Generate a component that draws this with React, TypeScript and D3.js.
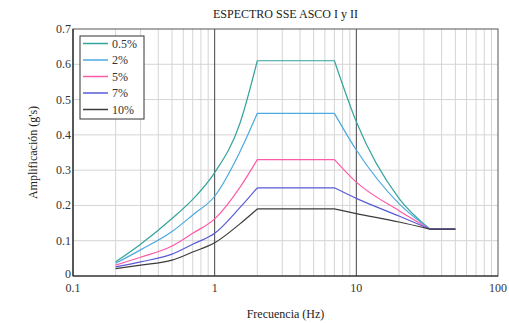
import * as d3 from 'd3';

// frequencies (Hz) shared by every damping curve
const freqs = [0.2, 0.3, 0.5, 0.7, 1, 1.5, 2, 7, 10, 20, 33, 50];

const damp05 = [0.040, 0.090, 0.163, 0.217, 0.293, 0.430, 0.610, 0.610, 0.437, 0.220, 0.133, 0.133];
const damp2 = [0.036, 0.074, 0.126, 0.173, 0.226, 0.350, 0.461, 0.461, 0.357, 0.205, 0.133, 0.133];
const damp5 = [0.031, 0.053, 0.085, 0.121, 0.162, 0.250, 0.330, 0.330, 0.266, 0.185, 0.133, 0.133];
const damp7 = [0.026, 0.040, 0.062, 0.090, 0.121, 0.193, 0.250, 0.250, 0.220, 0.170, 0.133, 0.133];
const damp10 = [0.021, 0.031, 0.045, 0.068, 0.094, 0.147, 0.190, 0.190, 0.177, 0.153, 0.133, 0.133];

const seriesNames = ['0.5%', '2%', '5%', '7%', '10%'];
const seriesValues = [damp05, damp2, damp5, damp7, damp10];
const seriesColors = ['#35a49c', '#4aaae2', '#ff5aa8', '#5a5ad6', '#3c3c3c'];

const yTicks = [0, 0.1, 0.2, 0.3, 0.4, 0.5, 0.6, 0.7];
const xTicks = [0.1, 1, 10, 100];
const xTickLabels = ['0.1', '1', '10', '100'];

const W = 509;
const H = 323;
const margin = { top: 29, right: 11, bottom: 47, left: 73 };
const FONT = '"Liberation Serif", "DejaVu Serif", serif';

export default function App() {
    const x = d3.scaleLog().domain([0.1, 100]).range([margin.left, W - margin.right]);
    const y = d3.scaleLinear().domain([0, 0.7]).range([H - margin.bottom, margin.top]);

    // minor grid: 2..9 of each decade
    const minor: number[] = [];
    [0.1, 1, 10].forEach(d => {
        for (let k = 2; k <= 9; k++) minor.push(d * k);
    });

    const smooth = d3.line<[number, number]>()
        .x(d => x(d[0]))
        .y(d => y(d[1]))
        .curve(d3.curveMonotoneX);
    const straight = d3.line<[number, number]>()
        .x(d => x(d[0]))
        .y(d => y(d[1]));

    // rising part and falling part smooth, plateau straight, corners kept sharp
    const paths = seriesValues.map(vals => {
        const pts = freqs.map((f, i) => [f, vals[i]] as [number, number]);
        const rise = pts.filter(p => p[0] <= 2);
        const flat = pts.filter(p => p[0] >= 2 && p[0] <= 7);
        const fall = pts.filter(p => p[0] >= 7 && p[0] <= 33);
        const tail = pts.filter(p => p[0] >= 33);
        return (smooth(rise) || '') + (straight(flat) || '') + (smooth(fall) || '') + (straight(tail) || '');
    });

    const x0 = margin.left;
    const x1 = W - margin.right;
    const y0 = H - margin.bottom;
    const y1 = margin.top;

    return (
        <div style={{ position: 'absolute', left: 0, top: 0 }}>
            <svg width={W} height={H} style={{ display: 'block', fontFamily: FONT }}>
                <rect width={W} height={H} fill="#fff" />

                {/* grid */}
                {yTicks.slice(1, -1).map(t => (
                    <line key={'h' + t} x1={x0} x2={x1} y1={y(t)} y2={y(t)} stroke="#d4d4d4" strokeWidth={1} />
                ))}
                {minor.map(t => (
                    <line key={'v' + t} x1={x(t)} x2={x(t)} y1={y0} y2={y1} stroke="#d4d4d4" strokeWidth={1} />
                ))}
                {[1, 10].map(t => (
                    <line key={'m' + t} x1={x(t)} x2={x(t)} y1={y0} y2={y1} stroke="#444" strokeWidth={1} />
                ))}

                {/* curves */}
                {paths.map((d, i) => (
                    <path key={seriesNames[i]} d={d} fill="none" stroke={seriesColors[i]} strokeWidth={1.2} />
                ))}

                {/* frame */}
                <rect x={x0} y={y1} width={x1 - x0} height={y0 - y1} fill="none" stroke="#555" strokeWidth={1} />
                <line x1={x0} x2={x1} y1={y0} y2={y0} stroke="#222" strokeWidth={1.2} />
                <line x1={x0} x2={x0} y1={y0} y2={y1} stroke="#222" strokeWidth={1.2} />

                {/* y tick labels */}
                {yTicks.map(t => (
                    <text key={'yl' + t} x={x0 - 2} y={y(t) + (t === 0 ? 2 : 4)} textAnchor="end" fontSize={12} fill="#333">
                        {t === 0 ? '0' : t.toFixed(1)}
                    </text>
                ))}
                {/* x tick labels */}
                {xTicks.map((t, i) => (
                    <text key={'xl' + t} x={x(t)} y={y0 + 16} textAnchor="middle" fontSize={12} fill="#333">
                        {xTickLabels[i]}
                    </text>
                ))}

                {/* titles */}
                <text x={(x0 + x1) / 2} y={18} textAnchor="middle" fontSize={12} fill="#222">
                    ESPECTRO SSE ASCO I y II
                </text>
                <text x={(x0 + x1) / 2} y={318} textAnchor="middle" fontSize={12} fill="#222">
                    Frecuencia (Hz)
                </text>
                <text transform={`translate(37,${(y0 + y1) / 2}) rotate(-90)`} textAnchor="middle" fontSize={12} fill="#222">
                    Amplificación (g's)
                </text>

                {/* legend */}
                <g transform="translate(80,36)">
                    <rect x={0} y={0} width={64} height={83} fill="#fff" stroke="#333" strokeWidth={1} />
                    {seriesNames.map((n, i) => (
                        <g key={n} transform={`translate(0,${7.5 + i * 16.5})`}>
                            <line x1={3} x2={28} y1={0} y2={0} stroke={seriesColors[i]} strokeWidth={1.5} />
                            <text x={32} y={4} fontSize={12} fill="#333">{n}</text>
                        </g>
                    ))}
                </g>
            </svg>
        </div>
    );
}
